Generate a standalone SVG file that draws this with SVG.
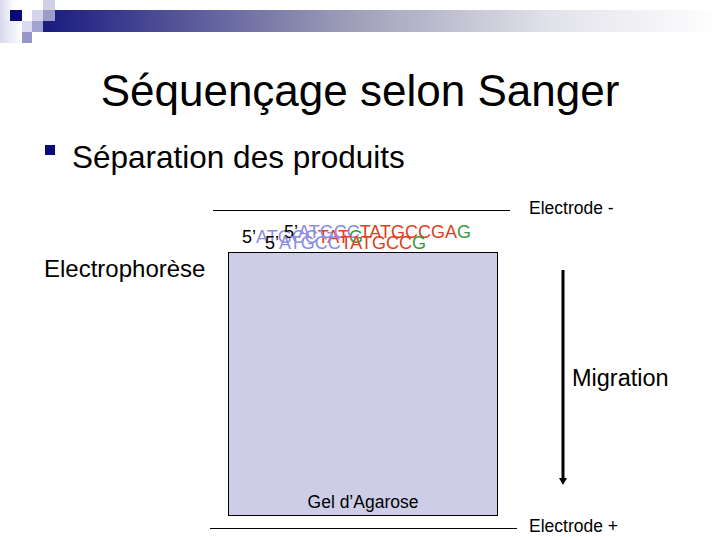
<svg xmlns="http://www.w3.org/2000/svg" width="720" height="540" viewBox="0 0 720 540">
<defs>
<linearGradient id="bar" x1="0" y1="0" x2="1" y2="0">
<stop offset="0" stop-color="#1a1a80"/>
<stop offset="0.45" stop-color="#9d9db8"/>
<stop offset="0.75" stop-color="#e2e2ea"/>
<stop offset="1" stop-color="#ffffff"/>
</linearGradient>
<linearGradient id="fadeL" x1="0" y1="0" x2="1" y2="0">
<stop offset="0" stop-color="#d8d8ee"/>
<stop offset="1" stop-color="#ffffff"/>
</linearGradient>
<marker id="arrow" markerWidth="8" markerHeight="8" refX="1" refY="4" orient="auto" markerUnits="userSpaceOnUse" viewBox="0 0 8 8">
<path d="M0,0 L7,4 L0,8 Z" fill="#000"/>
</marker>
<style>
text{font-family:"Liberation Sans",Arial,sans-serif;fill:#000}
.seq{font-size:18px}
.b{fill:#8c8ce0}.r{fill:#e0401c}.g{fill:#3c9a3c}
.lbl{font-size:17.5px}
</style>
</defs>
<g id="decoration">
<rect x="0" y="0" width="14" height="43" fill="url(#fadeL)"/>
<rect x="0" y="21" width="22" height="22" fill="url(#fadeL)"/>
<rect x="43" y="10" width="677" height="22" fill="url(#bar)"/>
<rect x="43" y="0" width="12" height="10" fill="#cfcfe8"/>
<rect x="10" y="10" width="12" height="11" fill="#0a0a7a"/>
<rect x="32" y="10" width="11" height="11" fill="#d4d4ec"/>
<rect x="43" y="10" width="12" height="11" fill="#9b9bcc"/>
<rect x="22" y="21" width="10" height="11" fill="#dadaf0"/>
<rect x="32" y="21" width="11" height="11" fill="#a3a3d2"/>
<rect x="22" y="32" width="10" height="11" fill="#9696c8"/>
</g>
<g id="title">
<text x="360" y="106" font-size="44" text-anchor="middle">Séquençage selon Sanger</text>
</g>
<g id="bullet">
<rect x="45" y="145" width="10" height="10" fill="#0a0a7a"/>
<text x="72" y="168" font-size="31.5">Séparation des produits</text>
</g>
<g id="electrodes">
<line x1="213" y1="210.5" x2="510" y2="210.5" stroke="#000" stroke-width="1"/>
<text class="lbl" x="529" y="214">Electrode -</text>
<line x1="210" y1="528.5" x2="517" y2="528.5" stroke="#000" stroke-width="1"/>
<text class="lbl" x="529" y="532">Electrode +</text>
</g>
<g id="gel">
<rect x="228.5" y="252.5" width="269" height="263" fill="#cdcde8" stroke="#000" stroke-width="1"/>
<text class="lbl" x="363" y="508" text-anchor="middle">Gel d’Agarose</text>
</g>
<g id="label-electrophorese">
<text x="44" y="277" font-size="24">Electrophorèse</text>
</g>
<g id="sequences">
<text class="seq" x="242" y="243">5’<tspan class="b">ATGCC</tspan><tspan class="r">TAT</tspan><tspan class="g">G</tspan></text>
<text class="seq" x="284" y="238">5’<tspan class="b">ATGCC</tspan><tspan class="r">TATGCCGA</tspan><tspan class="g">G</tspan></text>
<text class="seq" x="265" y="249">5’<tspan class="b">ATGCC</tspan><tspan class="r">TATGCC</tspan><tspan class="g">G</tspan></text>
</g>
<g id="connectors">
<line x1="563" y1="270" x2="563" y2="479" stroke="#000" stroke-width="3" marker-end="url(#arrow)"/>
</g>
<g id="migration">
<text x="572" y="386" font-size="23.5">Migration</text>
</g>
</svg>
